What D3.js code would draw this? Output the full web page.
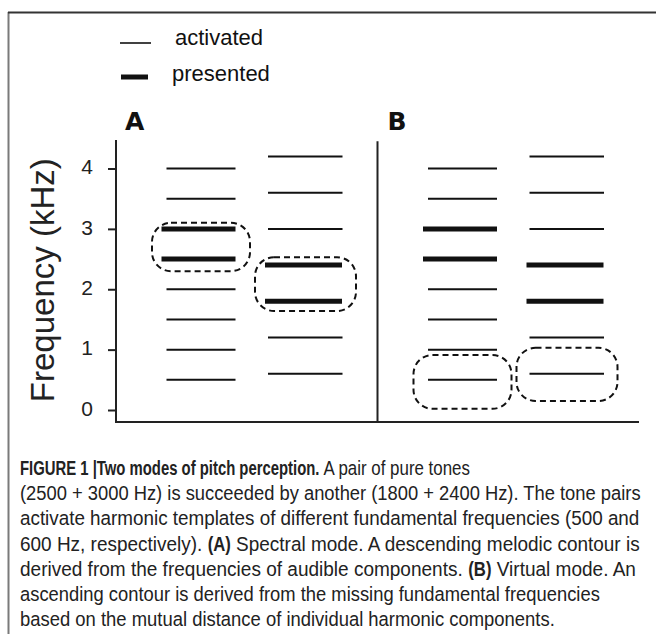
<!DOCTYPE html>
<html>
<head>
<meta charset="utf-8">
<script src="https://cdn.jsdelivr.net/npm/d3@7/dist/d3.min.js"></script>
<style>
  html, body { margin: 0; padding: 0; background: #fff; }
  svg { display: block; }
  .cap text { white-space: pre; }
</style>
</head>
<body>
<svg id="chart" width="656" height="634"></svg>
<script>
// tick values of the frequency axis (kHz)
const axisTicks = [0, 1, 2, 3, 4]
const panels = ["A", "B"]
const legendItems = ["activated", "presented"]

// harmonic templates (kHz) : first tone pair -> 500 Hz, second -> 600 Hz
const firstHarmonics = [0.5, 1, 1.5, 2, 2.5, 3, 3.5, 4]
const secondHarmonics = [0.6, 1.2, 1.8, 2.4, 3.0, 3.6, 4.2]
const firstPresented = [2.5, 3]
const secondPresented = [1.8, 2.4]

// dashed groupings (low / high kHz) for each tone pair
const groupA = [[2.3, 3.1], [1.64, 2.53]]
const groupB = [[0.02, 0.91], [0.15, 1.03]]

const captionLines = [
  [["FIGURE 1 |Two modes of pitch perception.", true], [" A pair of pure tones", false]],
  [["(2500 + 3000 Hz) is succeeded by another (1800 + 2400 Hz). The tone pairs", false]],
  [["activate harmonic templates of different fundamental frequencies (500 and", false]],
  [["600 Hz, respectively). ", false], ["(A)", true], [" Spectral mode. A descending melodic contour is", false]],
  [["derived from the frequencies of audible components. ", false], ["(B)", true], [" Virtual mode. An", false]],
  [["ascending contour is derived from the missing fundamental frequencies", false]],
  [["based on the mutual distance of individual harmonic components.", false]]
]
// measured line lengths in the reference (px)
const captionWidths = [450, 621, 620, 620, 616, 580, 535]

const svg = d3.select("#chart")
const FONT = "'Liberation Sans', Arial, Helvetica, sans-serif"

// frame
svg.append("line").attr("x1", 8.5).attr("x2", 8.5).attr("y1", 12).attr("y2", 634)
  .attr("stroke", "#7a7a7a").attr("stroke-width", 2)
svg.append("line").attr("x1", 8).attr("x2", 656).attr("y1", 12.5).attr("y2", 12.5)
  .attr("stroke", "#333").attr("stroke-width", 2)

// scales
const y = d3.scaleLinear().domain([0, 4]).range([410, 168.5])
const xPanel = d3.scaleBand().domain(panels).range([116, 639])

// column layout inside a panel (px from the panel start)
const cols = [
  {thin: [50.5, 119.5], thick: [45.5, 119.5], box: [36, 134]},
  {thin: [152, 226.5], thick: [149, 226], box: [139, 240]}
]

// axis
const g = svg.append("g").attr("font-family", FONT)
const yAxis = d3.axisLeft(y).tickValues(axisTicks).tickFormat(d3.format("d"))
  .tickSizeInner(8).tickSizeOuter(0).tickPadding(15)
const ax = g.append("g").attr("transform", "translate(116,0)").call(yAxis)
ax.select(".domain").remove()
ax.selectAll(".tick line").attr("stroke", "#222").attr("stroke-width", 2)
ax.selectAll(".tick text").attr("font-size", 21).attr("fill", "#222").attr("dy", "0.25em")
  .attr("font-family", FONT)

g.append("line").attr("x1", 116).attr("x2", 116).attr("y1", y(4.47)).attr("y2", y(-0.2))
  .attr("stroke", "#222").attr("stroke-width", 2)
g.append("line").attr("x1", 115).attr("x2", 639).attr("y1", y(-0.2)).attr("y2", y(-0.2))
  .attr("stroke", "#222").attr("stroke-width", 2)
g.append("line").attr("x1", xPanel("B")).attr("x2", xPanel("B")).attr("y1", y(4.45)).attr("y2", y(-0.2))
  .attr("stroke", "#222").attr("stroke-width", 2)

g.append("text")
  .attr("transform", "translate(54," + y(2.15) + ") rotate(-90)")
  .attr("text-anchor", "middle")
  .attr("font-size", 33)
  .attr("fill", "#222")
  .text("Frequency (kHz)")

// panels
const sets = [
  {all: firstHarmonics, presented: firstPresented},
  {all: secondHarmonics, presented: secondPresented}
]

panels.forEach(p => {
  const x0 = xPanel(p)
  const pg = g.append("g").attr("transform", "translate(" + x0 + ",0)")

  pg.append("text").attr("x", p == "A" ? 9 : 10).attr("y", 130)
    .attr("font-size", 25).attr("font-weight", "bold").attr("fill", "#111")
    .attr("font-family", "'DejaVu Sans', " + FONT)
    .text(p)

  sets.forEach((s, i) => {
    const c = cols[i]
    pg.selectAll(".h" + i)
      .data(s.all)
      .enter().append("line")
      .attr("class", "h" + i)
      .attr("x1", d => s.presented.includes(d) ? c.thick[0] : c.thin[0])
      .attr("x2", d => s.presented.includes(d) ? c.thick[1] : c.thin[1])
      .attr("y1", d => y(d))
      .attr("y2", d => y(d))
      .attr("stroke", "#111")
      .attr("stroke-width", d => s.presented.includes(d) ? 5 : 2)

    const grp = (p == "A" ? groupA : groupB)[i]
    pg.append("rect")
      .attr("x", c.box[0])
      .attr("width", c.box[1] - c.box[0])
      .attr("y", y(grp[1]))
      .attr("height", y(grp[0]) - y(grp[1]))
      .attr("rx", 19)
      .attr("fill", "none")
      .attr("stroke", "#111")
      .attr("stroke-width", 2)
      .attr("stroke-dasharray", "6,4")
  })
})

// legend
const legend = g.selectAll(".legend")
  .data(legendItems)
  .enter().append("g")
  .attr("class", "legend")
  .attr("transform", (d, i) => "translate(0," + (i * 35) + ")")

legend.append("line")
  .attr("x1", (d, i) => i ? 121 : 120)
  .attr("x2", (d, i) => i ? 148 : 151)
  .attr("y1", (d, i) => i ? 42 : 43)
  .attr("y2", (d, i) => i ? 42 : 43)
  .attr("stroke", "#111")
  .attr("stroke-width", (d, i) => i ? 5 : 1.6)

legend.append("text")
  .attr("x", (d, i) => i ? 172 : 175)
  .attr("y", (d, i) => i ? 46 : 45)
  .attr("font-size", 22)
  .attr("fill", "#111")
  .text(d => d)

// caption : condensed look, every segment squeezed, bold ones a bit more
const boldSqueeze = 0.88
const cap = svg.append("g").attr("class", "cap").attr("font-family", FONT)
  .attr("font-size", 19.5).attr("fill", "#222")

captionLines.forEach((line, i) => {
  const yy = 475 + i * 25.2
  const segs = line.map(seg => {
    const t = cap.append("text")
      .attr("font-weight", seg[1] ? "bold" : "normal")
      .text(seg[0])
    return {t: t, bold: seg[1], w: t.node().getComputedTextLength()}
  })
  let total = 0
  segs.forEach(s => total += s.w * (s.bold ? boldSqueeze : 1))
  const k = captionWidths[i] / total
  let x = 20
  segs.forEach(s => {
    const sc = k * (s.bold ? boldSqueeze : 1)
    s.t.attr("transform", "translate(" + x + "," + yy + ") scale(" + sc + ",1)")
    x += s.w * sc
  })
})
</script>
</body>
</html>
